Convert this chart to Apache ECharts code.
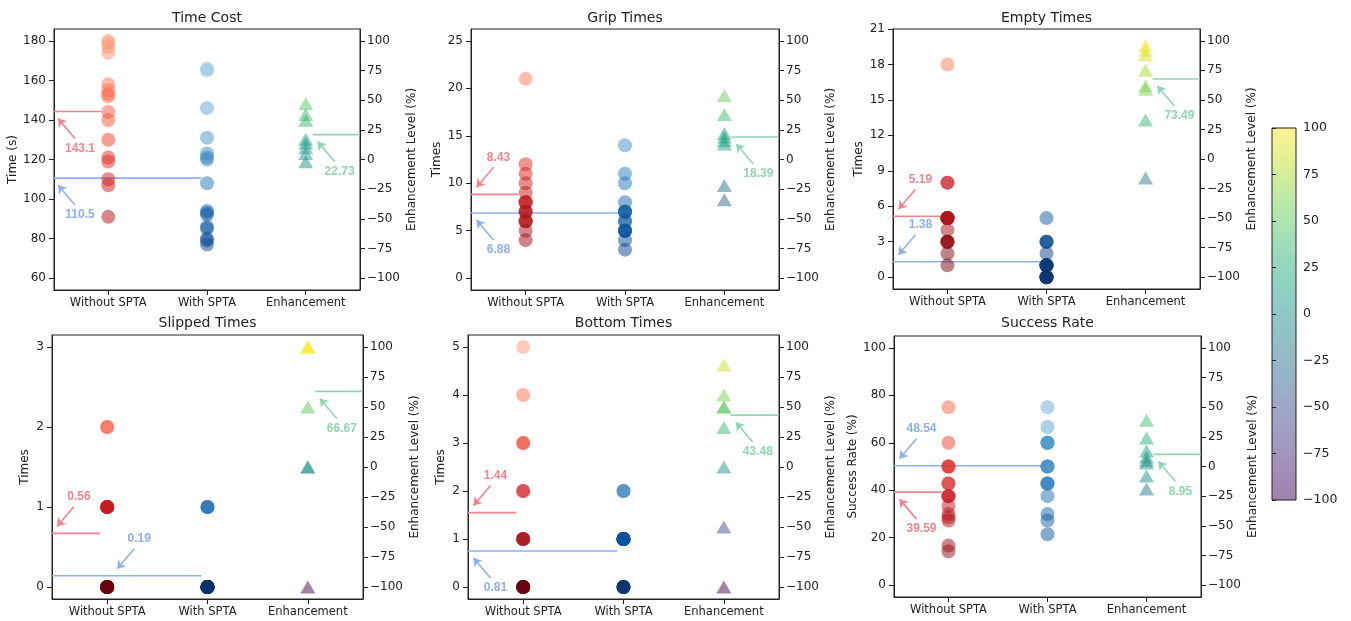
<!DOCTYPE html>
<html>
<head>
<meta charset="utf-8">
<script src="https://cdn.jsdelivr.net/npm/echarts@6/dist/echarts.min.js"></script>
<style>
html, body { margin: 0; padding: 0; background: #fff; }
#main { width: 1351px; height: 621px; }
</style>
</head>
<body>
<div id="main"></div>
<script>
var categories = ['Without SPTA', 'With SPTA', 'Enhancement'];
var panelTitles = ['Time Cost', 'Grip Times', 'Empty Times', 'Slipped Times', 'Bottom Times', 'Success Rate'];
var leftNames = ['Time (s)', 'Times', 'Times', 'Times', 'Times', 'Success Rate (%)'];
var rightName = 'Enhancement Level (%)';

// per-trial values
var timeWithout = [180, 179, 177, 174, 158, 155, 153, 152, 144, 140, 130, 121, 119, 110, 107, 91];
var timeWith = [166, 165, 146, 131, 123, 121, 120, 108, 94, 93, 92, 86, 85, 80, 79, 77];
var timeEnh = [47, 38, 33, 17, 14, 10, 5, -2];

var gripWithout = [21, 12, 11, 10, 9, 8, 8, 8, 7, 7, 7, 6, 6, 6, 5, 4];
var gripWith = [14, 11, 10, 8, 7, 7, 7, 7, 6, 6, 5, 5, 5, 5, 4, 3];
var gripEnh = [54, 38, 22, 19, 16, 13, -22, -34];

var emptyWithout = [18, 8, 8, 5, 5, 5, 5, 5, 5, 4, 3, 3, 3, 3, 2, 1];
var emptyWith = [5, 3, 3, 3, 2, 1, 1, 1, 1, 1, 1, 0, 0, 0, 0, 0];
var emptyEnh = [96, 92, 88, 75, 62, 59, 33, -16];

var slipWithout = [2, 2, 1, 1, 1, 1, 1, 0, 0, 0, 0, 0, 0, 0, 0, 0];
var slipWith = [1, 1, 1, 0, 0, 0, 0, 0, 0, 0, 0, 0, 0, 0, 0, 0];
var slipEnh = [100, 100, 100, 50, 0, 0, -100];

var bottomWithout = [5, 4, 3, 3, 2, 2, 1, 1, 1, 1, 0, 0, 0, 0, 0, 0];
var bottomWith = [2, 2, 1, 1, 1, 1, 1, 1, 1, 1, 1, 0, 0, 0, 0, 0];
var bottomEnh = [85, 60, 50, 50, 33, 0, -50, -100];

var successWithout = [75, 60, 50, 50, 50, 42.86, 42.86, 37.5, 37.5, 37.5, 33.33, 30, 28.57, 27.27, 16.67, 14.29];
var successWith = [75, 66.67, 60, 60, 60, 60, 50, 50, 50, 42.86, 42.86, 42.86, 37.5, 30, 27.27, 21.43];
var successEnh = [39, 24, 13, 8, 5, 3, -8, -19];

// printed mean values and the levels where the reference lines sit
var meanWithout = [143.1, 8.43, 5.19, 0.56, 1.44, 39.59];
var meanWith = [110.5, 6.88, 1.38, 0.19, 0.81, 48.54];
var meanEnh = [22.73, 18.39, 73.49, 66.67, 43.48, 8.95];
var lineWithout = [144.3, 8.83, 5.16, 0.67, 1.55, 39.2];
var lineWith = [110.6, 6.86, 1.3, 0.14, 0.75, 50.3];
var lineEnh = [21, 19, 67.7, 63, 43.2, 10.2];

// tick labels
var leftTicks = [
    [60, 80, 100, 120, 140, 160, 180],
    [0, 5, 10, 15, 20, 25],
    [0, 3, 6, 9, 12, 15, 18, 21],
    [0, 1, 2, 3],
    [0, 1, 2, 3, 4, 5],
    [0, 20, 40, 60, 80, 100]
];
var rightTicks = [-100, -75, -50, -25, 0, 25, 50, 75, 100];

var withoutData = [timeWithout, gripWithout, emptyWithout, slipWithout, bottomWithout, successWithout];
var withData = [timeWith, gripWith, emptyWith, slipWith, bottomWith, successWith];
var enhData = [timeEnh, gripEnh, emptyEnh, slipEnh, bottomEnh, successEnh];

// layout
var layout = [
    {grid: {left: 54, top: 29, width: 306, height: 261}, yMin: 54, yMax: 186, nameGap: 34, titleTop: 11,
     red: {x: -0.54, dir: 1}, blue: {x: -0.54, dir: 1}},
    {grid: {left: 471, top: 29, width: 308, height: 261}, yMin: -1.25, yMax: 26.25, nameGap: 28, titleTop: 11,
     red: {x: -0.525, dir: -1}, blue: {x: -0.525, dir: 1}},
    {grid: {left: 893, top: 29, width: 307, height: 260}, yMin: -1, yMax: 21, nameGap: 28, titleTop: 11,
     red: {x: -0.525, dir: -1}, blue: {x: -0.525, dir: -1}},
    {grid: {left: 52, top: 335, width: 311, height: 264}, yMin: -0.15, yMax: 3.15, nameGap: 21, titleTop: 316,
     red: {x: -0.53, dir: -1}, blue: {x: 0.07, dir: -1}},
    {grid: {left: 468, top: 335, width: 311, height: 264}, yMin: -0.25, yMax: 5.25, nameGap: 21, titleTop: 316,
     red: {x: -0.525, dir: -1}, blue: {x: -0.525, dir: 1}},
    {grid: {left: 894, top: 336, width: 307, height: 261}, yMin: -5, yMax: 105, nameGap: 34, titleTop: 316,
     red: {x: -0.525, dir: 1}, blue: {x: -0.525, dir: -1}}
];
var xMin = -0.55, xMax = 2.55, rMin = -110, rMax = 110;

var REDS = ['#fff5f0', '#fee0d2', '#fcbba1', '#fc9272', '#fb6a4a', '#ef3b2c', '#cb181d', '#a50f15', '#67000d'];
var BLUES = ['#f7fbff', '#deebf7', '#c6dbef', '#9ecae1', '#6baed6', '#4292c6', '#2171b5', '#08519c', '#08306b'];
var VIRIDIS = ['#440154', '#482475', '#414487', '#355f8d', '#2a788e', '#21918c', '#22a884', '#44bf70', '#7ad151', '#bddf26', '#fde725'];
var RED_TXT = '#f2838f', BLUE_TXT = '#8db0f0', GREEN_TXT = '#8fd6b0';
var FONT = 'DejaVu Sans';

function hex2rgb(h) {
    return [parseInt(h.slice(1, 3), 16), parseInt(h.slice(3, 5), 16), parseInt(h.slice(5, 7), 16)];
}
function cmap(stops, t, alpha) {
    t = Math.max(0, Math.min(1, t));
    var p = t * (stops.length - 1);
    var i = Math.min(Math.floor(p), stops.length - 2), f = p - i;
    var a = hex2rgb(stops[i]), b = hex2rgb(stops[i + 1]);
    var c = [0, 1, 2].map(function (k) { return Math.round(a[k] + (b[k] - a[k]) * f); });
    if (alpha != null) return 'rgba(' + c.join(',') + ',' + alpha + ')';
    return 'rgb(' + c.join(',') + ')';
}
function minus(v) { return String(v).replace('-', '\u2212'); }

var grids = [], xAxes = [], yAxes = [], series = [], titles = [];

// arrow + text for a reference line
function annotate(i, x0, level, dir, text, color, right) {
    var L = layout[i];
    var ySpan = right ? (rMax - rMin) : (L.yMax - L.yMin);
    var dx = function (px) { return px * (xMax - xMin) / L.grid.width; };
    var dy = function (px) { return -px * ySpan / L.grid.height; };
    var head = [x0 + dx(3), level + dy(7 * dir)];
    var tail = [x0 + dx(20), level + dy(27 * dir)];
    var txt = [x0 + dx(25), level + dy(37 * dir)];
    return {
        markLine: {
            silent: true,
            symbol: ['none', 'arrow'],
            symbolSize: 8,
            lineStyle: {color: color, width: 1.6, type: 'solid'},
            label: {show: false},
            data: [[{coord: tail}, {coord: head}]]
        },
        markPoint: {
            silent: true,
            symbol: 'rect',
            symbolSize: 1,
            itemStyle: {color: 'rgba(0,0,0,0)'},
            label: {show: true, position: 'inside', formatter: text, color: color,
                    fontWeight: 'bold', fontSize: 12, fontFamily: 'Liberation Sans'},
            data: [{coord: txt}]
        }
    };
}

function refLine(i, axisIdx, x0, x1, level, color, ann) {
    var s = {
        type: 'line', xAxisIndex: i, yAxisIndex: axisIdx, silent: true,
        symbol: 'none', showSymbol: false, z: 1,
        lineStyle: {color: color, width: 1.6},
        data: [[x0, level], [x1, level]]
    };
    s.markLine = ann.markLine;
    s.markPoint = ann.markPoint;
    return s;
}

for (var i = 0; i < 6; i++) {
    var L = layout[i];
    var lo = leftTicks[i][0], hi = leftTicks[i][leftTicks[i].length - 1];
    grids.push({left: L.grid.left, top: L.grid.top, width: L.grid.width, height: L.grid.height,
                show: true, borderColor: '#222', borderWidth: 1, backgroundColor: 'transparent'});
    titles.push({text: panelTitles[i], left: L.grid.left + L.grid.width / 2, top: L.titleTop,
                 textAlign: 'center', padding: 0,
                 textStyle: {fontSize: 14, fontWeight: 'normal', color: '#222', fontFamily: FONT}});
    xAxes.push({
        gridIndex: i, type: 'value', min: xMin, max: xMax,
        axisLine: {show: true, onZero: false, lineStyle: {color: '#222'}},
        axisTick: {show: true, customValues: [0, 1, 2], length: 5, lineStyle: {color: '#222'}},
        axisLabel: {customValues: [0, 1, 2], margin: 7, fontSize: 11.5, color: '#222', fontFamily: FONT,
                    formatter: function (v) { return categories[Math.round(v)]; }},
        splitLine: {show: false}
    });
    yAxes.push({
        gridIndex: i, type: 'value', position: 'left', min: L.yMin, max: L.yMax,
        name: leftNames[i], nameLocation: 'middle', nameGap: L.nameGap, nameRotate: 90,
        nameTextStyle: {fontSize: 12, color: '#222', fontFamily: FONT},
        axisLine: {show: true, onZero: false, lineStyle: {color: '#222'}},
        axisTick: {show: true, customValues: leftTicks[i], length: 5, lineStyle: {color: '#222'}},
        axisLabel: {customValues: leftTicks[i], margin: 8, fontSize: 12, color: '#222', fontFamily: FONT,
                    formatter: minus},
        splitLine: {show: false}
    });
    yAxes.push({
        gridIndex: i, type: 'value', position: 'right', min: rMin, max: rMax,
        name: rightName, nameLocation: 'middle', nameGap: 46, nameRotate: 90,
        nameTextStyle: {fontSize: 12, color: '#222', fontFamily: FONT},
        axisLine: {show: true, onZero: false, lineStyle: {color: '#222'}},
        axisTick: {show: true, customValues: rightTicks, length: 5, lineStyle: {color: '#222'}},
        axisLabel: {customValues: rightTicks, margin: 7, fontSize: 12, color: '#222', fontFamily: FONT,
                    formatter: minus},
        splitLine: {show: false}
    });

    (function (lo, hi) {
        series.push({
            type: 'scatter', name: categories[0], xAxisIndex: i, yAxisIndex: 2 * i,
            symbol: 'circle', symbolSize: 14, z: 2,
            data: withoutData[i].map(function (v) { return [0, v]; }),
            itemStyle: {opacity: 0.5, color: function (p) {
                return cmap(REDS, 1 - 0.65 * (p.value[1] - lo) / (hi - lo));
            }}
        });
        series.push({
            type: 'scatter', name: categories[1], xAxisIndex: i, yAxisIndex: 2 * i,
            symbol: 'circle', symbolSize: 14, z: 2,
            data: withData[i].map(function (v) { return [1, v]; }),
            itemStyle: {opacity: 0.5, color: function (p) {
                return cmap(BLUES, 1 - 0.65 * (p.value[1] - lo) / (hi - lo));
            }}
        });
    })(lo, hi);
    series.push({
        type: 'scatter', name: categories[2], xAxisIndex: i, yAxisIndex: 2 * i + 1,
        symbol: 'triangle', symbolSize: [15, 13], z: 2,
        data: enhData[i].map(function (v) { return [2, v]; }),
        itemStyle: {opacity: 0.5, color: function (p) {
            return cmap(VIRIDIS, (p.value[1] + 100) / 200);
        }}
    });

    series.push(refLine(i, 2 * i, xMin, -0.07, lineWithout[i], RED_TXT,
        annotate(i, L.red.x, lineWithout[i], L.red.dir, String(meanWithout[i]), RED_TXT, false)));
    series.push(refLine(i, 2 * i, xMin, 0.94, lineWith[i], BLUE_TXT,
        annotate(i, L.blue.x, lineWith[i], L.blue.dir, String(meanWith[i]), BLUE_TXT, false)));
    series.push(refLine(i, 2 * i + 1, 2.07, xMax, lineEnh[i], GREEN_TXT,
        annotate(i, 2.09, lineEnh[i], 1, String(meanEnh[i]), GREEN_TXT, true)));
}

// colour bar for the enhancement level
var barStops = VIRIDIS.map(function (c, k) {
    return {offset: 1 - k / (VIRIDIS.length - 1), color: cmap([c, c], 0, 0.5)};
});
grids.push({left: 1272, top: 128, width: 24, height: 372, show: true, borderColor: '#222', borderWidth: 1,
            backgroundColor: {type: 'linear', x: 0, y: 0, x2: 0, y2: 1, colorStops: barStops.reverse()}});
xAxes.push({gridIndex: 6, type: 'value', min: 0, max: 1, show: false});
yAxes.push({
    gridIndex: 6, type: 'value', position: 'right', min: -100, max: 100, interval: 25,
    axisLine: {show: false},
    axisTick: {show: true, length: 4, lineStyle: {color: '#222'}},
    axisLabel: {margin: 7, fontSize: 12.5, color: '#222', fontFamily: FONT, formatter: minus},
    splitLine: {show: false}
});
series.push({type: 'scatter', xAxisIndex: 6, yAxisIndex: 12, data: []});

var myChart = echarts.init(document.getElementById('main'));
myChart.setOption({
    animation: false,
    backgroundColor: '#fff',
    title: titles,
    grid: grids,
    xAxis: xAxes,
    yAxis: yAxes,
    series: series
});
</script>
</body>
</html>
